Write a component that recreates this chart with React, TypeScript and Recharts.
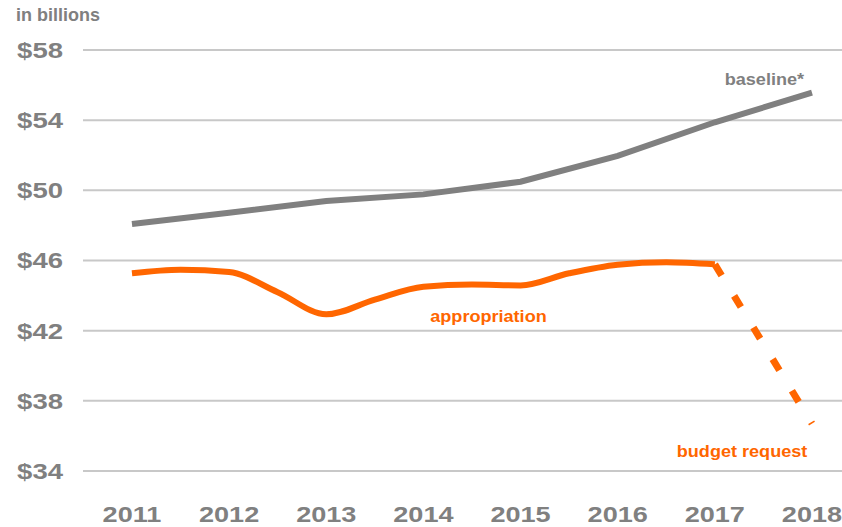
import React from "react";
import {
  LineChart,
  Line,
  XAxis,
  YAxis,
  CartesianGrid,
  ReferenceDot,
  Customized,
} from "recharts";

// years shown on the axis
const years = [2011, 2012, 2013, 2014, 2015, 2016, 2017, 2018];
const yTicks = [34, 38, 42, 46, 50, 54, 58];

// baseline*, one point a year
const baselineValues = [48.08, 48.72, 49.39, 49.77, 50.49, 51.97, 53.88, 55.57];

// appropriation, read every half year
const appropriationPeriods = [
  2011, 2011.5, 2012, 2012.5, 2013, 2013.5, 2014, 2014.5, 2015, 2015.5, 2016, 2016.5, 2017,
];
const appropriationValues = [
  45.27, 45.47, 45.34, 44.19, 42.93, 43.77, 44.51, 44.63, 44.58, 45.27, 45.76, 45.9, 45.78,
];

// budget request, dashed
const requestYears = [2017, 2018];
const requestValues = [45.78, 36.7];

const GRAY = "#808080";
const ORANGE = "#FF6600";
const FONT = "'Liberation Sans', Arial, Helvetica, sans-serif";

const baselineData = years.map((year, i) => ({ year, value: baselineValues[i] }));
const appropriationData = appropriationPeriods.map((year, i) => ({
  year,
  value: appropriationValues[i],
}));
const requestData = requestYears.map((year, i) => ({ year, value: requestValues[i] }));

// stretch text sideways around an anchor x, like the original artwork
const stretch = (x: number, k: number) => `translate(${x} 0) scale(${k} 1) translate(${-x} 0)`;

const XTick = ({ x, payload }: any) => (
  <text
    x={x}
    y={522}
    textAnchor="middle"
    fill={GRAY}
    fontSize={22}
    fontWeight="bold"
    fontFamily={FONT}
    transform={stretch(x, 1.23)}
  >
    {payload.value}
  </text>
);

const YTick = ({ y, payload }: any) => (
  <text
    x={63}
    y={y + 8}
    textAnchor="end"
    fill={GRAY}
    fontSize={22}
    fontWeight="bold"
    fontFamily={FONT}
    transform={stretch(63, 1.25)}
  >
    ${payload.value}
  </text>
);

const annotation = (text: string, color: string) => (props: any) => {
  const { viewBox } = props;
  const cx = viewBox.x + (viewBox.width || 0) / 2;
  const cy = viewBox.y + (viewBox.height || 0) / 2;
  return (
    <text
      x={cx}
      y={cy}
      textAnchor="middle"
      fill={color}
      fontSize={16}
      fontWeight="bold"
      fontFamily={FONT}
      transform={stretch(cx, 1.13)}
    >
      {text}
    </text>
  );
};

const UnitLabel = () => (
  <text x={16} y={21} fill={GRAY} fontSize={18} fontWeight="bold" fontFamily={FONT}>
    in billions
  </text>
);

export default function App() {
  return (
    <div style={{ position: "absolute", left: 0, top: 0, background: "#fff" }}>
      <LineChart
        width={842}
        height={527}
        margin={{ top: 50, right: 0, left: 0, bottom: 0 }}
      >
        <CartesianGrid horizontal vertical={false} stroke="#c8c8c8" strokeWidth={2} />
        <XAxis
          dataKey="year"
          type="number"
          domain={[2010.496, 2018.309]}
          ticks={years}
          allowDataOverflow
          axisLine={false}
          tickLine={false}
          height={56}
          tick={<XTick />}
        />
        <YAxis
          type="number"
          domain={[34, 58]}
          ticks={yTicks}
          allowDataOverflow
          axisLine={false}
          tickLine={false}
          width={83}
          tick={<YTick />}
        />
        <Line
          data={baselineData}
          dataKey="value"
          type="linear"
          stroke={GRAY}
          strokeWidth={6}
          strokeLinecap="butt"
          dot={false}
          activeDot={false}
          isAnimationActive={false}
        />
        <Line
          data={appropriationData}
          dataKey="value"
          type="monotone"
          stroke={ORANGE}
          strokeWidth={6}
          strokeLinecap="butt"
          dot={false}
          activeDot={false}
          isAnimationActive={false}
        />
        <Line
          data={requestData}
          dataKey="value"
          type="linear"
          stroke={ORANGE}
          strokeWidth={7}
          strokeDasharray="13 24"
          strokeLinecap="butt"
          dot={false}
          activeDot={false}
          isAnimationActive={false}
        />
        <ReferenceDot
          x={2017.51}
          y={56.0}
          r={1}
          fill="none"
          stroke="none"
          label={{ content: annotation("baseline*", GRAY) }}
        />
        <ReferenceDot
          x={2014.67}
          y={42.48}
          r={1}
          fill="none"
          stroke="none"
          label={{ content: annotation("appropriation", ORANGE) }}
        />
        <ReferenceDot
          x={2017.28}
          y={34.78}
          r={1}
          fill="none"
          stroke="none"
          label={{ content: annotation("budget request", ORANGE) }}
        />
        <Customized component={UnitLabel} />
      </LineChart>
    </div>
  );
}
